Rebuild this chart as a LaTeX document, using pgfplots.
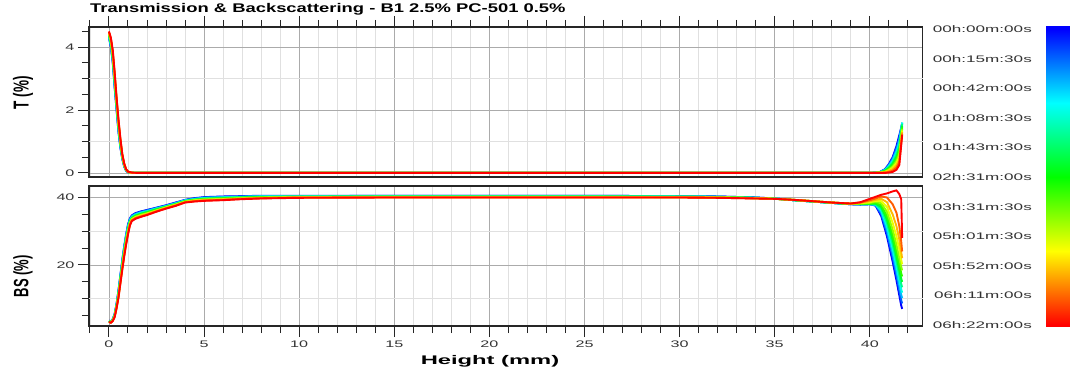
\documentclass[border=0pt]{standalone}
\usepackage{pgfplots}
\pgfplotsset{compat=1.18}
\usepackage{pgfplotstable}
\usepackage{graphicx}
\usepackage{fontspec}
\setmainfont{Liberation Sans}
\newcommand{\hs}[2]{\scalebox{#1}[1]{#2}}
\definecolor{c0}{RGB}{0,0,255}
\definecolor{c1}{RGB}{0,93,255}
\definecolor{c2}{RGB}{0,185,255}
\definecolor{c3}{RGB}{0,255,232}
\definecolor{c4}{RGB}{0,255,139}
\definecolor{c5}{RGB}{0,255,46}
\definecolor{c6}{RGB}{46,255,0}
\definecolor{c7}{RGB}{139,255,0}
\definecolor{c8}{RGB}{232,255,0}
\definecolor{c9}{RGB}{255,185,0}
\definecolor{c10}{RGB}{255,93,0}
\definecolor{c11}{RGB}{255,0,0}

\pgfplotstableread{
x c0 c1 c2 c3 c4 c5 c6 c7 c8 c9 c10 c11
0 4.30 4.32 4.34 4.35 4.37 4.39 4.41 4.43 4.45 4.46 4.48 4.50
0.1 4.00 4.03 4.05 4.08 4.11 4.14 4.16 4.19 4.22 4.25 4.27 4.30
0.2 3.50 3.54 3.57 3.61 3.65 3.68 3.72 3.75 3.79 3.83 3.86 3.90
0.3 2.70 2.75 2.79 2.84 2.88 2.93 2.97 3.02 3.06 3.11 3.15 3.20
0.4 2.00 2.04 2.07 2.11 2.15 2.18 2.22 2.25 2.29 2.33 2.36 2.40
0.5 1.30 1.34 1.37 1.41 1.45 1.48 1.52 1.55 1.59 1.63 1.66 1.70
0.6 0.80 0.83 0.85 0.88 0.91 0.94 0.96 0.99 1.02 1.05 1.07 1.10
0.7 0.45 0.46 0.48 0.49 0.50 0.52 0.53 0.55 0.56 0.57 0.59 0.60
0.8 0.20 0.21 0.22 0.23 0.24 0.25 0.25 0.26 0.27 0.28 0.29 0.30
0.9 0.07 0.07 0.08 0.08 0.09 0.09 0.10 0.10 0.11 0.11 0.12 0.12
1.0 0.02 0.02 0.02 0.03 0.03 0.03 0.03 0.03 0.03 0.04 0.04 0.04
1.2 0 0 0 0 0 0 0 0 0 0 0.01 0.01
1.5 0 0 0 0 0 0 0 0 0 0 0 0
40.0 0 0 0 0 0 0 0 0 0 0 0 0
40.5 0.02 0.02 0.02 0.01 0.01 0.01 0.01 0.01 0.01 0 0 0
40.8 0.12 0.11 0.10 0.09 0.08 0.07 0.05 0.04 0.03 0.02 0.01 0.00
41.0 0.28 0.26 0.23 0.21 0.18 0.16 0.13 0.11 0.08 0.06 0.03 0.01
41.2 0.50 0.46 0.42 0.37 0.33 0.29 0.24 0.20 0.16 0.12 0.07 0.03
41.4 0.85 0.78 0.71 0.65 0.58 0.51 0.44 0.37 0.31 0.24 0.17 0.10
41.55 1.20 1.11 1.03 0.94 0.86 0.77 0.68 0.60 0.51 0.42 0.34 0.25
41.7 1.55 1.58 1.60 1.60 1.55 1.50 1.45 1.40 1.35 1.30 1.25 1.20
}\Ttab

\pgfplotstableread{
x c0 c1 c2 c3 c4 c5 c6 c7 c8 c9 c10 c11
0 3.50 3.46 3.43 3.39 3.35 3.32 3.28 3.25 3.21 3.17 3.14 3.10
0.1 3.30 3.26 3.23 3.19 3.15 3.12 3.08 3.05 3.01 2.97 2.94 2.90
0.2 4.00 3.95 3.89 3.84 3.78 3.73 3.67 3.62 3.56 3.51 3.45 3.40
0.3 5.50 5.42 5.34 5.25 5.17 5.09 5.01 4.93 4.85 4.76 4.68 4.60
0.4 8.50 8.38 8.26 8.15 8.03 7.91 7.79 7.67 7.55 7.44 7.32 7.20
0.5 12.5 12.3 12.1 11.9 11.7 11.5 11.3 11.1 10.9 10.7 10.5 10.3
0.6 17.0 16.8 16.5 16.3 16.1 15.9 15.6 15.4 15.2 15.0 14.7 14.5
0.7 21.5 21.2 21.0 20.7 20.4 20.2 19.9 19.7 19.4 19.1 18.9 18.6
0.8 25.5 25.2 25.0 24.7 24.4 24.1 23.9 23.6 23.3 23.0 22.8 22.5
0.9 29.0 28.7 28.5 28.2 27.9 27.6 27.4 27.1 26.8 26.5 26.3 26.0
1.0 32.0 31.7 31.5 31.2 30.9 30.6 30.4 30.1 29.8 29.5 29.3 29.0
1.1 33.8 33.6 33.4 33.2 33.0 32.8 32.7 32.5 32.3 32.1 31.9 31.7
1.2 34.7 34.5 34.4 34.2 34.1 33.9 33.8 33.6 33.5 33.3 33.2 33.0
1.4 35.4 35.2 35.1 34.9 34.8 34.6 34.5 34.3 34.2 34.0 33.9 33.7
1.7 35.9 35.8 35.6 35.5 35.3 35.2 35.0 34.9 34.7 34.6 34.4 34.3
2.0 36.3 36.2 36.0 35.9 35.8 35.6 35.5 35.3 35.2 35.1 34.9 34.8
2.5 37.0 36.9 36.8 36.7 36.6 36.5 36.3 36.2 36.1 36.0 35.9 35.8
3.0 37.7 37.6 37.5 37.4 37.3 37.2 37.2 37.1 37.0 36.9 36.8 36.7
3.5 38.5 38.4 38.3 38.2 38.1 38.0 38.0 37.9 37.8 37.7 37.6 37.5
4.0 39.3 39.2 39.2 39.1 39.0 38.9 38.9 38.8 38.7 38.6 38.6 38.5
4.5 39.8 39.7 39.6 39.5 39.4 39.3 39.3 39.2 39.1 39.0 38.9 38.8
5.0 40.1 40.0 39.9 39.8 39.7 39.6 39.5 39.4 39.3 39.2 39.1 39.0
6.0 40.3 40.2 40.1 40.0 39.9 39.8 39.7 39.6 39.5 39.4 39.3 39.2
7.0 40.4 40.3 40.2 40.2 40.1 40.0 39.9 39.8 39.7 39.7 39.6 39.5
8.0 40.5 40.4 40.4 40.3 40.2 40.1 40.1 40.0 39.9 39.8 39.8 39.7
10 40.5 40.4 40.4 40.3 40.3 40.2 40.2 40.1 40.1 40.0 40.0 39.9
15 40.5 40.5 40.4 40.4 40.3 40.3 40.2 40.2 40.1 40.1 40.0 40.0
20 40.5 40.5 40.4 40.4 40.3 40.3 40.2 40.2 40.1 40.1 40.0 40.0
25 40.5 40.5 40.4 40.4 40.3 40.3 40.2 40.2 40.1 40.1 40.0 40.0
30 40.4 40.4 40.3 40.3 40.3 40.2 40.2 40.1 40.1 40.1 40.0 40.0
32 40.3 40.3 40.2 40.2 40.2 40.1 40.1 40.0 40.0 40.0 39.9 39.9
34 40.0 40.0 39.9 39.9 39.9 39.9 39.8 39.8 39.8 39.8 39.7 39.7
35 39.7 39.7 39.7 39.7 39.7 39.6 39.6 39.6 39.6 39.6 39.6 39.6
36 39.2 39.2 39.2 39.2 39.2 39.2 39.3 39.3 39.3 39.3 39.3 39.3
37 38.8 38.8 38.8 38.8 38.8 38.8 38.9 38.9 38.9 38.9 38.9 38.9
38 38.4 38.4 38.4 38.4 38.4 38.4 38.5 38.5 38.5 38.5 38.5 38.5
39 38.0 38.0 38.0 38.1 38.1 38.1 38.1 38.1 38.2 38.2 38.2 38.2
39.5 37.9 37.9 38.0 38.0 38.0 38.1 38.1 38.2 38.3 38.4 38.5 38.6
40.0 38.0 38.0 38.0 38.0 38.1 38.1 38.2 38.4 38.6 38.9 39.2 39.6
40.3 37.6 37.7 37.8 37.9 38.0 38.2 38.4 38.7 39.0 39.3 39.7 40.2
40.6 34.5 35.1 35.7 36.2 36.7 37.2 37.7 38.3 38.9 39.6 40.3 40.8
40.9 28.5 29.5 30.5 31.5 32.5 33.5 34.5 35.8 37.2 38.6 40.0 41.2
41.2 21.0 22.3 23.6 24.9 26.2 27.5 28.8 30.5 32.5 35.0 38.0 41.8
41.4 15.5 16.9 18.3 19.7 21.1 22.5 24.0 26.0 28.5 31.5 35.5 42.1
41.55 11.0 12.5 14.0 15.5 17.0 18.5 20.0 22.0 24.5 27.5 31.5 41.0
41.65 8.0 9.6 11.2 12.8 14.4 16.0 17.6 19.5 21.5 23.8 27.0 39.5
41.7 7.0 8.6 10.2 11.8 13.4 15.0 16.6 18.4 20.2 22.0 24.0 28.0
}\BStab

\pgfplotsset{
  tbstyle/.style={
    scale only axis, width=833.7pt,
    xmin=-1.05, xmax=42.78,
    xtick={0,5,...,40},
    minor xtick={-1,0,...,42},
    xmajorgrids=true, xminorgrids=true, ymajorgrids=true,
    major grid style={black!33, line width=0.8pt},
    minor grid style={black!12, line width=0.8pt},
    axis line style={black!85, line width=1.1pt},
    tick style={black!85, line width=1pt},
    tick align=outside,
    major tick length=11pt, minor tick length=7pt,
    ytick pos=left,
    ticklabel style={font=\fontsize{9.5}{10}\selectfont, text=black!80},
    /pgf/number format/assume math mode=true,
    yticklabel={\hs{1.7}{\pgfmathprintnumber{\tick}}},
    extra y tick style={major tick length=0pt, ymajorgrids=true, major grid style={black!12, line width=0.8pt}},
    extra y tick labels={},
    ylabel style={font=\fontsize{13.5}{15}\bfseries\selectfont, anchor=center},
  }
}

\begin{document}
\begin{tikzpicture}
% top: transmission
\begin{axis}[tbstyle,
  at={(89pt,192pt)}, anchor=south west, height=150pt,
  ymin=-0.13, ymax=4.64,
  ytick={0,2,4}, minor ytick={0.5,1,1.5,2.5,3,3.5,4.5},
  extra y ticks={1,3},
  xtick pos=right, xticklabels={},
  ylabel={\scalebox{1}[1.6]{T (\%)}},
  ylabel style={at={(axis description cs:-0.0792,0.562)}},
  title={\hs{1.46}{Transmission \& Backscattering - B1 2.5\% PC-501 0.5\%}},
  title style={at={(axis description cs:0,1)}, anchor=base west, inner sep=0pt, yshift=8pt, xshift=1pt, font=\fontsize{12.6}{14}\bfseries\selectfont},
]
\pgfplotsinvokeforeach{0,...,11}{
  \addplot[c#1, line width=1.9pt] table[x=x, y=c#1] {\Ttab};
}
\end{axis}
% bottom: backscattering
\begin{axis}[tbstyle,
  at={(89pt,43pt)}, anchor=south west, height=140pt,
  ymin=1.93, ymax=43.4,
  ytick={20,40}, minor ytick={5,10,15,25,30,35},
  extra y ticks={10,30},
  xtick pos=left,
  xticklabel={\hs{1.7}{\pgfmathprintnumber{\tick}}},
  ylabel={\scalebox{1}[1.6]{BS (\%)}},
  ylabel style={at={(axis description cs:-0.0792,0.354)}, font=\fontsize{13}{15}\bfseries\selectfont},
  xlabel={\hs{1.9}{Height (mm)}},
  xlabel style={at={(axis description cs:0.481,-0.2736)}, anchor=base, inner sep=0pt, font=\fontsize{12.5}{14}\bfseries\selectfont},
]
\pgfplotsinvokeforeach{0,...,11}{
  \addplot[c#1, line width=1.9pt] table[x=x, y=c#1] {\BStab};
}
\end{axis}
% colour scale
\begin{axis}[
  at={(1045.7pt,42.3pt)}, anchor=south west, scale only axis,
  width=40pt, height=300pt,
  xmin=0, xmax=1, ymin=-0.0078, ymax=1.0056, y dir=reverse,
  axis line style={draw=none},
  xtick=\empty,
  ytick={0,0.1,0.2,0.3,0.4,0.5,0.6,0.7,0.8,0.9,1},
  yticklabels={\hs{1.8}{00h:00m:00s},\hs{1.8}{00h:15m:30s},\hs{1.8}{00h:42m:00s},\hs{1.8}{01h:08m:30s},\hs{1.8}{01h:43m:30s},\hs{1.8}{02h:31m:00s},\hs{1.8}{03h:31m:30s},\hs{1.8}{05h:01m:30s},\hs{1.8}{05h:52m:00s},\hs{1.8}{06h:11m:00s},\hs{1.8}{06h:22m:00s}},
  major tick length=0pt,
  yticklabel style={font=\fontsize{9.5}{10}\selectfont, text=black!80, inner sep=0pt, anchor=east, xshift=-13.7pt},
  colormap={timecm}{rgb255(0cm)=(0,0,255) rgb255(1cm)=(0,255,255) rgb255(2cm)=(0,255,0) rgb255(3cm)=(255,255,0) rgb255(4cm)=(255,0,0)},
  point meta min=0, point meta max=1,
]
\addplot[surf, shader=interp, point meta=y] coordinates {
(0,-0.01) (1,-0.01)

(0,0) (1,0)

(0,0.25) (1,0.25)

(0,0.5) (1,0.5)

(0,0.75) (1,0.75)

(0,1) (1,1)

(0,1.01) (1,1.01)
};
\end{axis}
\pgfresetboundingbox
\path[use as bounding box] (0,0) rectangle (1070pt,369pt);
\end{tikzpicture}
\end{document}
